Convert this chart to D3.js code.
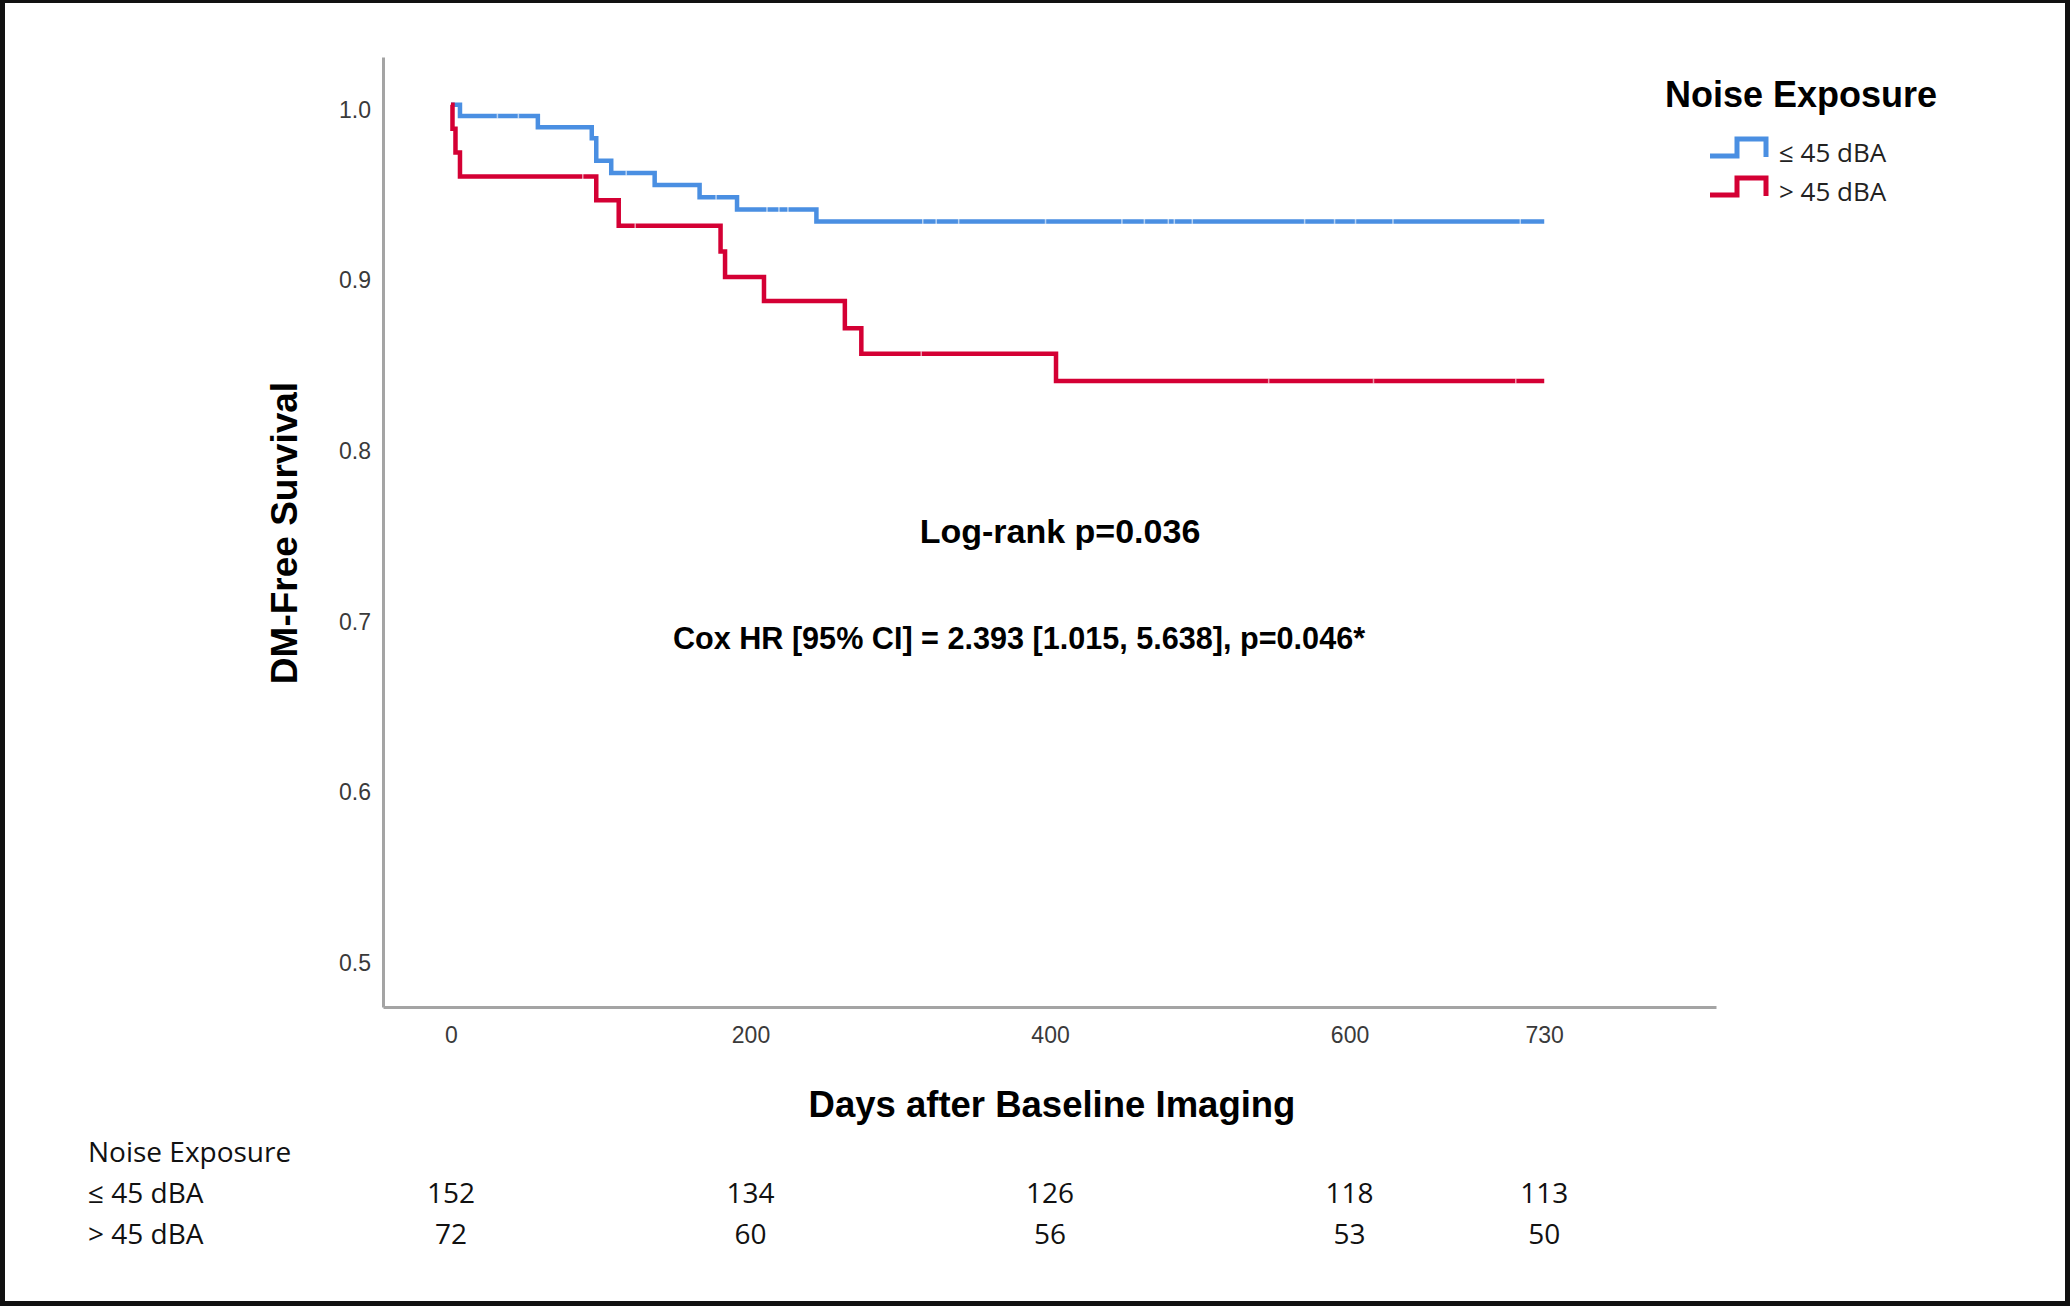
<!DOCTYPE html>
<html>
<head>
<meta charset="utf-8">
<script src="https://cdn.jsdelivr.net/npm/d3@7"></script>
<style>
  body { margin: 0; background: #fff; }
  svg { display: block; }
  .tick text { font-family: "Liberation Sans", Arial, sans-serif; font-size: 23px; fill: #3a3a3a; }
</style>
</head>
<body>
<script>
// Kaplan-Meier steps (days, survival)
const lowTimes = [0, 6, 58, 94, 97, 107, 136, 166, 191, 244];
const lowSurv = [1, 0.9934, 0.9868, 0.9803, 0.9671, 0.9600, 0.9530, 0.9458, 0.9386, 0.9316];
const lowCensored = [31, 45, 117, 177, 211, 219, 225, 315, 324, 339, 397, 448, 463, 479, 483, 495, 570, 590, 604, 629, 714];

const highTimes = [0, 1, 3, 6, 97, 112, 180, 183, 209, 263, 274, 404];
const highSurv = [1, 0.986, 0.972, 0.958, 0.944, 0.929, 0.914, 0.899, 0.885, 0.869, 0.854, 0.838];
const highCensored = [88, 123, 314, 546, 616, 711];

const followUp = 730;

const groupLabels = ["≤ 45 dBA", "> 45 dBA"];
const groupColors = ["#4a8fe2", "#d40034"];

const xTicks = [0, 200, 400, 600, 730];
const yTicks = [0.5, 0.6, 0.7, 0.8, 0.9, 1.0];

// numbers at risk at each x tick
const atRiskLow = [152, 134, 126, 118, 113];
const atRiskHigh = [72, 60, 56, 53, 50];

const logRankText = "Log-rank p=0.036";
const coxText = "Cox HR [95% CI] = 2.393 [1.015, 5.638], p=0.046*";

// =============================================================================

const width = 2070,
      height = 1306;

const x = d3.scaleLinear()
    .domain([-45.4, 844.7])
    .range([383, 1716]);

const y = d3.scaleLinear()
    .domain([0.471, 1.028])
    .range([1007, 57]);

const svg = d3.select("body").append("svg")
    .attr("width", width)
    .attr("height", height);

// black frame round the figure
svg.append("rect")
    .attr("width", width)
    .attr("height", height)
    .attr("fill", "#111");
svg.append("rect")
    .attr("x", 5).attr("y", 3)
    .attr("width", width - 10)
    .attr("height", height - 8)
    .attr("fill", "#fff");

// axes
const yAxis = svg.append("g")
    .attr("transform", `translate(${x.range()[0]},0)`)
    .call(d3.axisLeft(y).tickValues(yTicks).tickFormat(d3.format(".1f"))
      .tickSize(0).tickPadding(12));
yAxis.selectAll(".tick text").attr("dy", "0.55em");

const xAxis = svg.append("g")
    .attr("transform", `translate(0,${y.range()[0]})`)
    .call(d3.axisBottom(x).tickValues(xTicks).tickFormat(d3.format("d"))
      .tickSize(0).tickPadding(20));

svg.selectAll(".domain")
    .attr("stroke", "#a4a4a4")
    .attr("stroke-width", 3);

const font = "'Liberation Sans', Arial, sans-serif";

svg.append("text")
    .attr("transform", "translate(284,533) rotate(-90)")
    .attr("text-anchor", "middle")
    .attr("dominant-baseline", "central")
    .style("font-family", font)
    .style("font-weight", "bold")
    .style("font-size", "37px")
    .text("DM-Free Survival");

svg.append("text")
    .attr("x", 1052).attr("y", 1104)
    .attr("text-anchor", "middle")
    .attr("dominant-baseline", "central")
    .style("font-family", font)
    .style("font-weight", "bold")
    .style("font-size", "36.5px")
    .text("Days after Baseline Imaging");

// survival curves
const series = [
  { times: lowTimes, surv: lowSurv, censored: lowCensored },
  { times: highTimes, surv: highSurv, censored: highCensored }
];

const line = d3.line()
    .x(d => x(d[0]))
    .y(d => y(d[1]))
    .curve(d3.curveStepAfter);

series.forEach((s, i) => {
  const pts = s.times.map((t, j) => [t, s.surv[j]]);
  pts.push([followUp, s.surv[s.surv.length - 1]]);

  svg.append("path")
      .datum(pts)
      .attr("fill", "none")
      .attr("stroke", groupColors[i])
      .attr("stroke-width", 4.5)
      .attr("d", line);

  // censor ticks show up as faint breaks in the line
  svg.append("g")
    .selectAll("line")
    .data(s.censored)
    .join("line")
      .attr("x1", d => x(d)).attr("x2", d => x(d))
      .attr("y1", d => y(s.surv[d3.bisectRight(s.times, d) - 1]) - 2.5)
      .attr("y2", d => y(s.surv[d3.bisectRight(s.times, d) - 1]) + 2.5)
      .attr("stroke", "#fff")
      .attr("stroke-opacity", 0.6)
      .attr("stroke-width", 1.5);
});

// annotations
svg.append("text")
    .attr("x", 1060).attr("y", 531)
    .attr("text-anchor", "middle")
    .attr("dominant-baseline", "central")
    .style("font-family", font)
    .style("font-weight", "bold")
    .style("font-size", "34px")
    .text(logRankText);

svg.append("text")
    .attr("x", 1019).attr("y", 638)
    .attr("text-anchor", "middle")
    .attr("dominant-baseline", "central")
    .style("font-family", font)
    .style("font-weight", "bold")
    .style("font-size", "30.6px")
    .text(coxText);

// legend
const legend = svg.append("g");

legend.append("text")
    .attr("x", 1801).attr("y", 94)
    .attr("text-anchor", "middle")
    .attr("dominant-baseline", "central")
    .style("font-family", font)
    .style("font-weight", "bold")
    .style("font-size", "36px")
    .text("Noise Exposure");

groupLabels.forEach((label, i) => {
  const top = 139 + i * 39;
  legend.append("path")
      .attr("d", `M1710,${top + 17}H1737V${top}H1766V${top + 18}`)
      .attr("fill", "none")
      .attr("stroke", groupColors[i])
      .attr("stroke-width", 5);
  legend.append("text")
      .attr("x", 1779).attr("y", top + 13)
      .attr("dominant-baseline", "central")
      .style("font-family", "'Open Sans', sans-serif")
      .style("font-size", "26px")
      .style("fill", "#222")
      .text(label);
});

// numbers at risk table
const table = svg.append("g")
    .style("font-family", "'Open Sans', sans-serif")
    .style("font-size", "28px")
    .style("fill", "#111");

table.append("text")
    .attr("x", 88).attr("y", 1151)
    .attr("dominant-baseline", "central")
    .text("Noise Exposure");

[atRiskLow, atRiskHigh].forEach((row, i) => {
  const rowY = 1192 + i * 41;
  table.append("text")
      .attr("x", 88).attr("y", rowY)
      .attr("dominant-baseline", "central")
      .text(groupLabels[i]);
  table.selectAll(null)
    .data(row)
    .join("text")
      .attr("x", (d, j) => x(xTicks[j]))
      .attr("y", rowY)
      .attr("text-anchor", "middle")
      .attr("dominant-baseline", "central")
      .text(d => d);
});
</script>
</body>
</html>
